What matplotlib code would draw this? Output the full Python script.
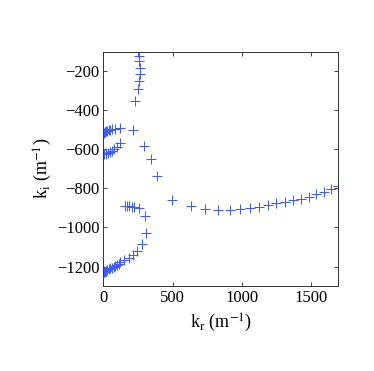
import matplotlib
matplotlib.use("Agg")
import matplotlib.pyplot as plt

plt.rcParams["font.family"] = ["Liberation Serif", "DejaVu Serif"]
plt.rcParams["mathtext.fontset"] = "stix"

# branch near the top (nearly vertical)
top_kr = [247, 255, 260, 262, 262, 260, 250, 231, 211]
top_ki = [-101, -124, -150, -183, -214, -252, -294, -355, -503]

# long branch running right
long_kr = [291, 344, 390, 495, 634, 735, 831, 913, 985, 1057, 1128, 1190,
           1252, 1317, 1374, 1430, 1486, 1541, 1596, 1649, 1697]
long_ki = [-584, -648, -737, -859, -890, -907, -912, -911, -907, -903, -897,
           -886, -877, -868, -861, -852, -842, -830, -819, -805, -786]

# cluster near -500
c500_kr = [5, 12, 20, 28, 38, 50, 65, 85, 123]
c500_ki = [-515, -512, -509, -506, -503, -500, -497, -495, -493]

# cluster near -600
c600_kr = [0, 5, 15, 30, 45, 60, 75, 95, 122]
c600_ki = [-626, -625, -623, -619, -614, -608, -600, -588, -567]

# branch near -900 coming back from the lower curve
c900_kr = [159, 172, 183, 207, 224, 255, 303]
c900_ki = [-890, -890, -891, -895, -898, -903, -941]

# lower curve
low_kr = [0, 4, 9, 15, 21, 27, 38, 50, 62, 74, 86, 99, 111, 123, 150, 183,
          212, 245, 279, 308]
low_ki = [-1230, -1228, -1226, -1224, -1222, -1220, -1215, -1210, -1206,
          -1202, -1197, -1191, -1185, -1179, -1167, -1154, -1140, -1120,
          -1086, -1028]

fig = plt.figure(figsize=(3.74, 3.71), dpi=100)
ax = fig.add_axes([0.2767, 0.229, 0.628, 0.632])

color = "#3d5cff"
for xs, ys in [(top_kr, top_ki), (long_kr, long_ki), (c500_kr, c500_ki),
               (c600_kr, c600_ki), (c900_kr, c900_ki), (low_kr, low_ki)]:
    ax.plot(xs, ys, "+", color=color, ms=6.5, mew=0.75, clip_on=True)

ax.set_xlim(0, 1700)
ax.set_ylim(-1300, -100)
ax.set_xticks([0, 500, 1000, 1500])
ax.set_yticks([-1200, -1000, -800, -600, -400, -200])
ax.tick_params(direction="in", length=3, width=0.6, top=True, right=True,
               labelsize=12, colors="#222222", labelcolor="black", pad=3)
for sp in ax.spines.values():
    sp.set_linewidth(0.7)
    sp.set_color("#333333")

ax.set_xlabel(r"k$_\mathrm{r}$ (m$^{-1}$)", fontsize=13, labelpad=4)
ax.set_ylabel(r"k$_\mathrm{i}$ (m$^{-1}$)", fontsize=13, labelpad=2)

fig.savefig("out.png", dpi=100)
